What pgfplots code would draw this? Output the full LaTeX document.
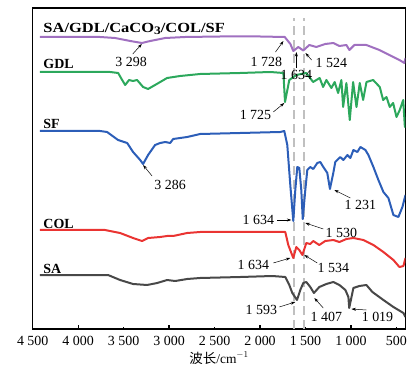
\documentclass[border=0pt]{standalone}
\usepackage{fontspec}
\setmainfont{Liberation Serif}
\newfontfamily\cjk{Noto Sans CJK SC}
\usepackage{pgfplots}
\pgfplotsset{compat=1.18}
\usetikzlibrary{arrows.meta}
\definecolor{cpur}{RGB}{160,112,192}
\definecolor{cgrn}{RGB}{44,168,92}
\definecolor{cblu}{RGB}{44,94,184}
\definecolor{cred}{RGB}{234,52,50}
\definecolor{cgry}{RGB}{72,72,72}
\definecolor{cdash}{RGB}{192,192,192}

\pgfplotstableread{
w y
4420 333
3759 333
3594 332
3428 329
3298 327
3208 329
3043 332
2823 333
2438 333.5
1997 333.5
1728 333
1666 326
1634 319
1579 323
1524 319.5
1458 325
1381 323
1282 326
1193 327
1127 324
1050 325
1017 320
962 325
830 325
687 320
533 313
467 310
412 307
400 312
}\tpur

\pgfplotstableread{
w y
4420 298
3648 298
3560 297
3516 290
3483 285
3440 290
3396 289
3352 290
3286 283
3231 281
3154 285
3022 292
2879 294
2659 296
2219 297
1886 298
1743 297
1725 268
1678 290
1601 295
1491 297
1416 288
1344 292
1306 283
1270 290
1215 282
1179 288
1141 277
1105 290
1086 263
1050 287
1013 250
976 288
939 263
903 287
866 270
829 288
756 290
683 283
646 270
609 273
573 263
536 267
499 253
463 260
425 270
407 243
400 248
}\tgrn

\pgfplotstableread{
w y
4420 239
3759 239
3682 238
3561 230
3461 227
3396 218
3318 210
3286 206
3231 215
3154 225
3098 227
3043 228
2988 227
2955 231
2801 233
2658 236
2217 237
1777 238
1733 239
1700 225
1667 185
1634 149
1612 180
1590 203
1568 202
1546 180
1530 151
1502 180
1480 200
1447 203
1414 201
1370 207
1337 208
1304 203
1260 197
1231 181
1194 197
1172 208
1117 213
1083 210
1039 215
1006 212
973 220
929 218
896 223
841 220
808 215
753 203
698 190
643 178
588 172
533 155
478 153
434 163
400 175
}\tblu

\pgfplotstableread{
w y
4420 140
3704 140
3539 137
3396 132
3297 129
3231 132
3098 133
3021 134
2955 134
2801 137
2658 138
2217 138
1722 138
1689 125
1634 112
1601 123
1568 120
1534 115
1491 127
1447 126
1414 129
1348 125
1282 129
1193 130
1127 128
1050 131
973 132
863 130
753 125
643 118
533 110
467 103
423 104
400 112
}\tred

\pgfplotstableread{
w y
4420 95
3671 95
3539 90
3396 86
3242 85
3131 87
3021 90
2933 89
2801 91
2658 92
2217 93
1865 94
1722 93
1678 85
1645 77
1593 70
1557 80
1524 87
1491 88
1447 83
1407 77
1348 83
1271 86
1194 88
1127 85
1061 80
1028 73
1019 62
973 82
907 84
830 85
764 78
643 70
533 63
423 57
400 53
}\tgry

\begin{document}
\begin{tikzpicture}[font=\fontsize{14}{16}\selectfont,
  arr/.style={-{Stealth[length=4.5bp,width=3bp]}, line width=0.5bp, black},
  lab/.style={anchor=west, font=\fontsize{14}{16}\selectfont\bfseries}]
\begin{axis}[
  scale only axis, width=372.8bp, height=321bp,
  x dir=reverse, xmin=400, xmax=4500, ymin=41, ymax=362,
  axis line style={line width=1.3bp},
  ytick=\empty,
  xtick={500,1000,...,4500},
  xticklabels={500,1 000,1 500,2 000,2 500,3 000,3 500,4 000,4 500},
  xtick pos=bottom, tick align=inside,
  major tick length=2.5bp,
  tick style={line width=1.2bp, black},
  extra x ticks={1000,2000,3000,4000},
  extra x tick labels={},
  extra x tick style={major tick length=4.5bp},
  xticklabel style={font=\fontsize{14}{16}\selectfont, yshift=-4bp},
  xlabel={{\cjk 波长}/cm$^{-1}$},
  xlabel style={at={(axis description cs:0.5,0)}, anchor=center, yshift=-29bp, font=\fontsize{13.5}{15}\selectfont},
  clip mode=individual,
]
\draw[cdash, line width=2bp, dash pattern=on 9bp off 5bp] (axis cs:1630,41) -- (axis cs:1630,352);
\draw[cdash, line width=2bp, dash pattern=on 9bp off 5bp] (axis cs:1520,41) -- (axis cs:1520,352);

\addplot[cpur, line width=2bp, line join=round] table[x=w,y=y] {\tpur};
\addplot[cgrn, line width=2bp, line join=round] table[x=w,y=y] {\tgrn};
\addplot[cblu, line width=2bp, line join=round] table[x=w,y=y] {\tblu};
\addplot[cred, line width=2bp, line join=round] table[x=w,y=y] {\tred};
\addplot[cgry, line width=2bp, line join=round] table[x=w,y=y] {\tgry};

% series labels
\node[lab] at (axis cs:4420,341) {\scalebox{1.18}[1]{SA/GDL/CaCO\raisebox{-0.35ex}{\fontsize{11.5}{12}\selectfont 3}/COL/SF}};
\node[lab] at (axis cs:4420,306) {GDL};
\node[lab] at (axis cs:4420,246) {SF};
\node[lab] at (axis cs:4420,146) {COL};
\node[lab] at (axis cs:4420,101) {SA};

% annotations
\node at (axis cs:3418,308) {3 298};
\draw[arr] (axis cs:3400,316) -- (axis cs:3300,326);
\node at (axis cs:1931,308) {1 728};
\draw[arr] (axis cs:1830,318) -- (axis cs:1742,329);
\node at (axis cs:1600,295) {1 634};
\draw[arr] (axis cs:1600,302) -- (axis cs:1600,318);
\node at (axis cs:1216,307) {1 524};
\draw[arr] (axis cs:1433,310) -- (axis cs:1500,317);
\node at (axis cs:2050,255) {1 725};
\draw[arr] (axis cs:1854,258) -- (axis cs:1733,267);
\node at (axis cs:2988,185) {3 286};
\draw[arr] (axis cs:3187,194) -- (axis cs:3286,205);
\node at (axis cs:896,165) {1 231};
\draw[arr] (axis cs:1006,172) -- (axis cs:1183,180);
\node at (axis cs:2018,150) {1 634};
\draw[arr] (axis cs:1810,150) -- (axis cs:1656,150);
\node at (axis cs:1105,137) {1 530};
\draw[arr] (axis cs:1304,141) -- (axis cs:1502,147);
\node at (axis cs:2074,105) {1 634};
\draw[arr] (axis cs:1854,107) -- (axis cs:1667,112);
\node at (axis cs:1193,102) {1 534};
\draw[arr] (axis cs:1370,107) -- (axis cs:1513,115);
\node at (axis cs:1986,60) {1 593};
\draw[arr] (axis cs:1788,63) -- (axis cs:1612,68);
\node at (axis cs:1271,53) {1 407};
\draw[arr] (axis cs:1304,62) -- (axis cs:1403,72);
\node at (axis cs:708,53) {1 019};
\draw[arr] (axis cs:830,60) -- (axis cs:995,61);
\end{axis}
\pgfresetboundingbox
\path ([shift={(-32.7bp,-41bp)}]current axis.south west) rectangle ([shift={(6.5bp,8bp)}]current axis.north east);
\end{tikzpicture}
\end{document}
